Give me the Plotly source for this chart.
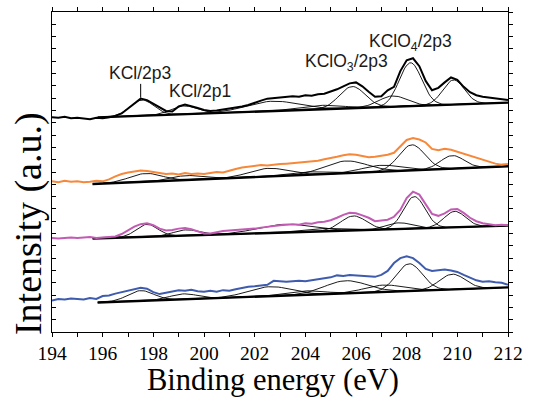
import numpy as np
import plotly.graph_objects as go

# ---------------- data ----------------
energy = [194 + 0.25 * i for i in range(73)]

spec_black = [218, 217.5, 218.5, 217, 217.5, 216.5, 216, 217.5, 217, 218, 219.5, 222,
              227, 232, 237, 235.5, 232, 228, 224.5, 224, 229, 231, 229.5, 227.5,
              225.5, 224.5, 225, 226, 226.5, 228, 229, 230.5, 233, 235, 237, 237.5,
              238, 238.5, 239.5, 239, 240.5, 240, 241.5, 242, 244, 246.5, 249.5, 252.5,
              253.5, 249.5, 244, 239, 239.5, 245.5, 249, 265, 276, 278, 270, 255,
              245.5, 248, 253.5, 258.5, 256, 249, 243.5, 240.5, 239, 238, 237, 236, 235.5]

spec_orange = [153, 152, 153.5, 152.5, 153, 152, 152.5, 153.5, 153, 155, 158, 160.5,
               162, 163, 164, 163.5, 162.5, 161, 160.5, 161, 160, 161.5, 160.5, 161,
               160.5, 161.5, 162.5, 162, 164, 165.5, 167, 168, 168.5, 169.5, 169, 170,
               170.5, 171, 171.5, 172.5, 172.5, 173.5, 174, 175.5, 176.5, 178, 179.5, 180.5,
               180, 178.5, 177.5, 178, 179, 180, 182, 189, 195, 197, 195.5, 192.5,
               186, 184.5, 186, 185, 183, 181, 178.5, 177, 174.5, 172.5, 171, 170, 170.5]

spec_pink = [95.5, 95, 95.5, 96, 95.5, 96, 96.5, 95.5, 96, 96, 97, 99.5,
             103, 107, 109.5, 110.5, 108.5, 105, 103, 103.5, 105, 105.5, 104.5, 102,
             100, 100, 101.5, 102.5, 103, 103.5, 103.5, 104.5, 105, 106, 107, 108,
             108.5, 109, 109.5, 109, 110.5, 110, 111.5, 112, 113.5, 116, 119, 121,
             120.5, 118.5, 116, 112.5, 113, 114, 117, 124, 136, 142.5, 139.5, 130,
             120, 118, 120.5, 124.5, 125, 121, 116, 112.5, 110.5, 109.5, 108.5, 109, 108.5]

spec_blue = [32, 33.5, 33, 34, 33.5, 33, 34.5, 33.5, 36.5, 37, 39, 40.5,
             41.5, 43.5, 45, 44, 40.5, 38.5, 40, 41.5, 42.5, 42, 43, 41.5,
             41, 42, 41, 42.5, 42, 43.5, 45, 46, 46.5, 47.5, 48, 52,
             51.5, 51, 51.5, 52, 51.5, 52.5, 53, 54, 55.5, 57.5, 57, 58,
             57.5, 57, 56.5, 56, 58, 62, 70, 75, 77, 75, 70, 64,
             62, 62.5, 63.5, 62.5, 61, 58, 55, 52.5, 51, 51.5, 50.5, 50, 48]

# baselines: (start energy, end energy), (start value, end value)
base_black_e = [195.8, 212]
base_black_v = [218, 233]
base_orange_e = [195.6, 212]
base_orange_v = [150.3, 168.3]
base_pink_e = [195.6, 212]
base_pink_v = [95, 108]
base_blue_e = [195.8, 212]
base_blue_v = [30, 45.3]

# fitted peak components: centre (eV), height (a.u.), FWHM (eV)
peak_black_c = [197.55, 199.2, 202.7, 204.6, 205.85, 207.45, 208.15, 209.85]
peak_black_h = [16, 8.5, 10, 4, 22, 11, 44, 25]
peak_black_w = [1.1, 1.2, 2.4, 2.0, 1.2, 1.3, 1.05, 1.0]

peak_orange_c = [197.7, 199.3, 202.55, 204.0, 205.6, 207.0, 208.2, 209.8]
peak_orange_h = [8.4, 4.5, 8.3, 3, 12.4, 6.5, 26, 13.3]
peak_orange_w = [1.5, 1.4, 1.8, 1.8, 2.0, 1.8, 1.2, 1.1]

peak_pink_c = [197.75, 199.3, 203.2, 204.6, 205.9, 207.7, 208.3, 209.9]
peak_pink_h = [12.6, 5.8, 8.4, 3, 14.7, 6.3, 32.5, 16.2]
peak_pink_w = [1.0, 1.2, 2.5, 1.8, 1.2, 1.2, 1.0, 1.0]

peak_blue_c = [197.5, 199.2, 202.6, 204.0, 205.6, 207.1, 208.1, 209.8]
peak_blue_h = [10.4, 5.5, 9.6, 4, 12.8, 7, 27.7, 15.5]
peak_blue_w = [1.2, 1.3, 2.0, 1.8, 2.0, 1.8, 1.2, 1.2]

labels = ["KCl/2p3", "KCl/2p1", "KClO<sub>3</sub>/2p3", "KClO<sub>4</sub>/2p3"]
label_e = [197.47, 199.84, 205.64, 208.17]
label_v = [263, 245, 274, 294]

x_title = "Binding energy (eV)"
y_title = "Intensity (a.u.)"

# ---------------- figure ----------------
fig = go.Figure()

spectra = [
    (spec_black, "#000000", base_black_e, base_black_v, peak_black_c, peak_black_h, peak_black_w),
    (spec_orange, "#F7883A", base_orange_e, base_orange_v, peak_orange_c, peak_orange_h, peak_orange_w),
    (spec_pink, "#C25BB4", base_pink_e, base_pink_v, peak_pink_c, peak_pink_h, peak_pink_w),
    (spec_blue, "#3E5BAD", base_blue_e, base_blue_v, peak_blue_c, peak_blue_h, peak_blue_w),
]

for spec, col, be, bv, pc, ph, pw in spectra:
    e0, e1 = be
    slope = (bv[1] - bv[0]) / (e1 - e0)
    for c, h, w in zip(pc, ph, pw):
        lo = max(e0, c - 2.6 * w)
        hi = min(e1, c + 2.6 * w)
        xs = np.linspace(lo, hi, 80)
        ys = bv[0] + slope * (xs - e0) + h * np.exp(-4 * np.log(2) * ((xs - c) / w) ** 2)
        fig.add_trace(go.Scatter(x=xs, y=ys, mode="lines",
                                 line=dict(color="black", width=0.9),
                                 showlegend=False, hoverinfo="skip"))
    fig.add_trace(go.Scatter(x=be, y=bv, mode="lines",
                             line=dict(color="black", width=2.4),
                             showlegend=False, hoverinfo="skip"))
    fig.add_trace(go.Scatter(x=energy, y=spec, mode="lines",
                             line=dict(color=col, width=2),
                             showlegend=False))

# dummy trace for right axis
fig.add_trace(go.Scatter(x=[194], y=[0], yaxis="y2", mode="markers",
                         marker=dict(opacity=0), showlegend=False, hoverinfo="skip"))

for t, e, v in zip(labels, label_e, label_v):
    fig.add_annotation(x=e, y=v, text=t, showarrow=False,
                       font=dict(family="Liberation Sans", size=17.5, color="#1a1a1a"))

# leader line for KCl/2p3
fig.add_shape(type="line", x0=197.5, x1=197.5, y0=238, y1=252,
              line=dict(color="black", width=1))

serif = "Liberation Serif"
fig.add_annotation(xref="paper", yref="paper", x=-0.053, y=0.34, text=y_title,
                   textangle=-90, showarrow=False, xanchor="center", yanchor="middle",
                   font=dict(family=serif, size=38, color="black"))
fig.add_annotation(xref="paper", yref="paper", x=0.485, y=-0.149, text=x_title,
                   showarrow=False, xanchor="center", yanchor="middle",
                   font=dict(family=serif, size=30.5, color="black"))

fig.update_layout(
    width=538, height=401,
    margin=dict(l=52, r=30, t=7, b=69),
    plot_bgcolor="white", paper_bgcolor="white",
    font=dict(family=serif, color="black"),
    xaxis=dict(range=[194, 212], tick0=194, dtick=2, ticks="outside", ticklen=4,
               tickwidth=1, tickcolor="black", showline=True, linecolor="black",
               linewidth=1, mirror="allticks", showgrid=False, zeroline=False,
               tickfont=dict(family=serif, size=19.5, color="black"),
               minor=dict(dtick=1, ticks="outside", ticklen=2.5, tickcolor="black")),
    yaxis=dict(range=[0, 325], showticklabels=False, ticks="inside", dtick=12.5,
               ticklen=4, tickcolor="black", showline=True, linecolor="black",
               linewidth=1, mirror=True, showgrid=False, zeroline=False),
    yaxis2=dict(range=[0, 325], overlaying="y", side="right", showticklabels=False,
                ticks="outside", dtick=12.5, ticklen=4, tickcolor="black",
                showline=False, showgrid=False, zeroline=False),
)

fig.write_html("out.html", config={"displayModeBar": False},
               post_script="document.body.style.margin='0px';")
